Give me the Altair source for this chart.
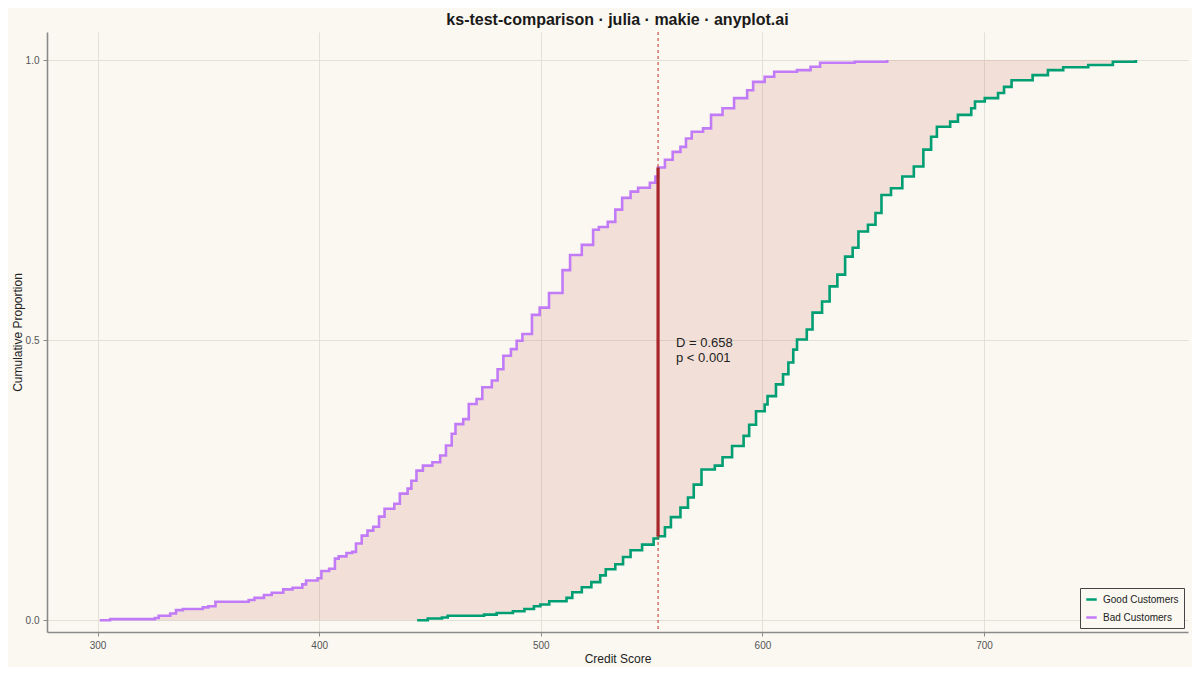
import altair as alt
import pandas as pd

# ECDF breakpoints (x = credit score, y = cumulative proportion)
bad_x = [301, 305.7, 325.9, 327.6, 332.8, 335.4, 338.5, 347.5, 350, 353.2, 368.2, 370.8, 375.1,
         378.6, 383.8, 388, 392.4, 394.1, 399.3, 401, 404.5, 407.1, 408.8, 412.3, 414.9, 416.6,
         419.2, 421.8, 424.4, 427, 429.5, 433.9, 436.4, 439.9, 441.6, 443.9, 446.8, 451.1, 454.6,
         457.2, 459.8, 461.5, 465, 467.5, 471, 473.6, 477.9, 480.5, 483.1, 486.5, 489.1, 491.7,
         496, 499.5, 503.7, 509.8, 513.2, 518.5, 523.6, 526.2, 530.2, 533.6, 536.7, 540.5, 543.9,
         549.2, 551.7, 552.9, 556, 559.5, 563, 565.5, 568.1, 573.2, 576.8, 582, 587.2, 593.1,
         595.8, 601, 605.3, 615.6, 621.7, 626, 641.6, 656.3]
bad_y = [0.0, 0.002, 0.004, 0.008, 0.012, 0.018, 0.020, 0.023, 0.025, 0.033, 0.036, 0.040, 0.045,
         0.049, 0.055, 0.058, 0.064, 0.071, 0.075, 0.088, 0.092, 0.110, 0.114, 0.120, 0.122, 0.137,
         0.151, 0.160, 0.167, 0.185, 0.199, 0.208, 0.226, 0.235, 0.249, 0.267, 0.276, 0.282, 0.294,
         0.312, 0.333, 0.350, 0.359, 0.386, 0.395, 0.416, 0.428, 0.448, 0.472, 0.484, 0.499, 0.511,
         0.545, 0.558, 0.584, 0.625, 0.652, 0.670, 0.697, 0.702, 0.711, 0.733, 0.754, 0.765, 0.772,
         0.781, 0.792, 0.808, 0.822, 0.836, 0.845, 0.860, 0.872, 0.878, 0.902, 0.914, 0.932, 0.946,
         0.961, 0.970, 0.979, 0.982, 0.988, 0.995, 0.997, 1.0]

good_x = [444.2, 449, 455.4, 458, 474.4, 480.1, 487.4, 492.6, 496.9, 499.8, 503.8, 511.6, 514.2,
          518.5, 522.8, 526.8, 529.3, 533.6, 537.1, 540.5, 545.7, 550.9, 552.9, 556, 558.7, 563,
          566.4, 569, 572.5, 578.5, 582, 586.3, 591.5, 594, 597.1, 601, 602.3, 606.1, 609.3, 611.7,
          613.9, 615.6, 620, 622.6, 626.9, 630.3, 633.8, 637.3, 640.7, 643.3, 647.6, 651, 653.7,
          658, 663.1, 668.3, 672.6, 676.1, 678.7, 684.7, 688.2, 694.2, 695.9, 700.3, 706.3, 709,
          712.4, 721.9, 728.8, 735.7, 747, 758.1, 768.5]
good_y = [0.0, 0.003, 0.005, 0.008, 0.010, 0.013, 0.016, 0.020, 0.025, 0.028, 0.034, 0.040, 0.050,
          0.059, 0.068, 0.080, 0.091, 0.100, 0.113, 0.125, 0.135, 0.146, 0.150, 0.166, 0.184, 0.201,
          0.219, 0.242, 0.269, 0.276, 0.291, 0.311, 0.329, 0.349, 0.373, 0.385, 0.400, 0.421, 0.439,
          0.460, 0.483, 0.501, 0.519, 0.549, 0.569, 0.596, 0.617, 0.649, 0.665, 0.694, 0.706, 0.727,
          0.759, 0.771, 0.792, 0.810, 0.840, 0.863, 0.881, 0.890, 0.902, 0.914, 0.926, 0.932, 0.941,
          0.952, 0.964, 0.973, 0.982, 0.987, 0.991, 0.997, 1.0]

series_names = ["Good Customers", "Bad Customers"]
series_colors = ["#009E73", "#C27BF7"]
d_x = 552.9
d_good = 0.150
d_bad = 0.808
annotation = ["D = 0.658", "p < 0.001"]


def ecdf_at(xs, ys, v):
    val = 0.0
    for a, b in zip(xs, ys):
        if a <= v:
            val = b
        else:
            break
    return val


grid_x = sorted(set(bad_x) | set(good_x))
band = pd.DataFrame({
    "x": grid_x,
    "bad": [ecdf_at(bad_x, bad_y, v) for v in grid_x],
    "good": [ecdf_at(good_x, good_y, v) for v in grid_x],
})

lines = pd.concat([
    pd.DataFrame({"x": good_x, "y": good_y, "group": series_names[0]}),
    pd.DataFrame({"x": bad_x, "y": bad_y, "group": series_names[1]}),
])

xscale = alt.Scale(domain=[277.2, 792], nice=False, zero=False)
yscale = alt.Scale(domain=[-0.021, 1.05], nice=False, zero=False)

xaxis = alt.Axis(values=[300, 400, 500, 600, 700], title="Credit Score", format="d")
yaxis = alt.Axis(values=[0, 0.5, 1.0], title="Cumulative Proportion", format=".1f")

area = alt.Chart(band).mark_area(interpolate="step-after", color="#c0392b", opacity=0.12).encode(
    x=alt.X("x:Q", scale=xscale, axis=xaxis),
    y=alt.Y("bad:Q", scale=yscale, axis=yaxis),
    y2="good:Q",
)

curves = alt.Chart(lines).mark_line(interpolate="step-after", strokeWidth=2.6).encode(
    x=alt.X("x:Q", scale=xscale),
    y=alt.Y("y:Q", scale=yscale),
    color=alt.Color("group:N", scale=alt.Scale(domain=series_names, range=series_colors),
                    legend=alt.Legend(title=None)),
    detail="group:N",
)

dline = pd.DataFrame({"x": [d_x], "y": [d_good], "y2": [d_bad]})
dashed = alt.Chart(dline).mark_rule(color="#c0463a", strokeWidth=1.1, strokeDash=[3, 3]).encode(
    x=alt.X("x:Q", scale=xscale),
)
dseg = alt.Chart(dline).mark_rule(color="#a8262a", strokeWidth=3.2).encode(
    x=alt.X("x:Q", scale=xscale),
    y=alt.Y("y:Q", scale=yscale),
    y2="y2:Q",
)

txt = pd.DataFrame({"x": [561.0], "y": [0.506], "t": [annotation]})
label = alt.Chart(txt).mark_text(align="left", baseline="top", fontSize=13, lineHeight=15,
                                 color="#222222", font="Liberation Sans").encode(
    x=alt.X("x:Q", scale=xscale),
    y=alt.Y("y:Q", scale=yscale),
    text="t",
)

chart = alt.layer(area, curves, dashed, dseg, label).properties(
    width=1141,
    height=600,
    autosize=alt.AutoSizeParams(type="none"),
    padding={"left": 39, "top": 24, "right": 4, "bottom": 35},
    background="#FAF8F1",
    title=alt.TitleParams("ks-test-comparison · julia · makie · anyplot.ai", anchor="middle",
                          fontSize=16, fontWeight="bold", font="Liberation Sans",
                          color="#1a1a1a", offset=3),
).configure_view(stroke=None).configure_axis(
    labelFont="Liberation Sans", titleFont="Liberation Sans", labelFontSize=10,
    labelColor="#555555", titleFontSize=12, titleFontWeight="normal", titleColor="#222222",
    gridColor="#e3e0d8", gridWidth=1, domainColor="#8a8a8a", domainWidth=1.6,
    tickColor="#8a8a8a", tickSize=4,
).configure_axisX(labelPadding=4, titlePadding=3).configure_axisY(labelPadding=4, titlePadding=1).configure_legend(
    orient="bottom-right", offset=4, strokeColor="#444444", fillColor="#FAF8F1", padding=5,
    symbolType="stroke", symbolStrokeWidth=2.5, symbolSize=110, labelFont="Liberation Sans",
    labelFontSize=10, labelColor="#222222", rowPadding=6, cornerRadius=0, labelOffset=5,
)

chart.save("out.html", embed_options={"renderer": "svg", "actions": False})
